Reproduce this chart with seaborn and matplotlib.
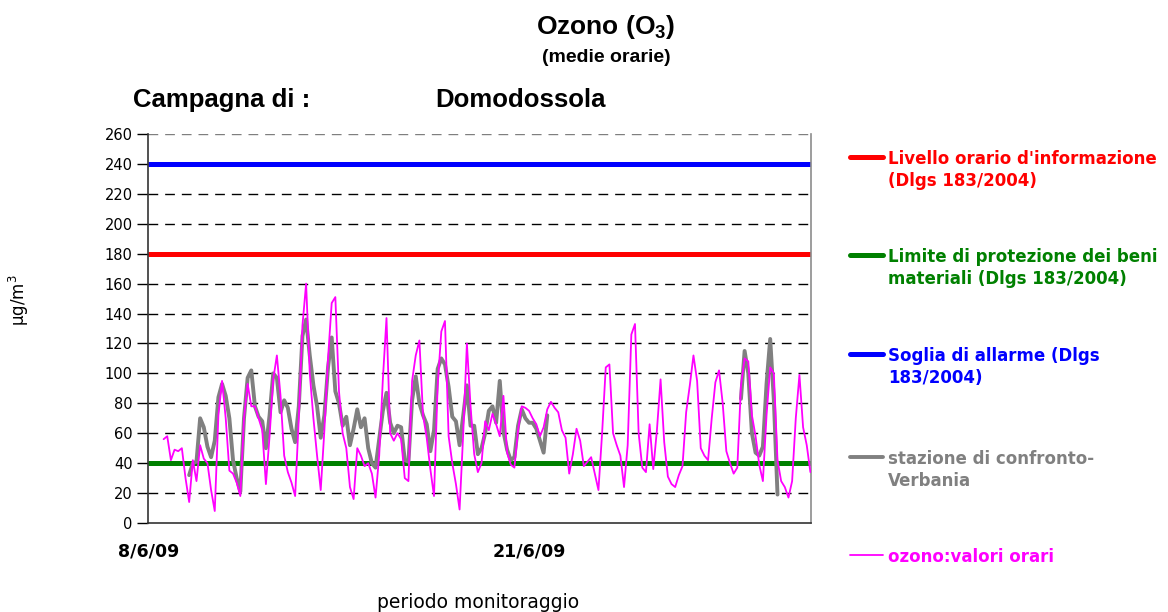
import numpy as np
import pandas as pd
import matplotlib
matplotlib.use("Agg")
import matplotlib.pyplot as plt
from matplotlib.lines import Line2D
import seaborn as sns

nan = np.nan

# ---------------- data ----------------
start_time = "2009-06-08 00:00"
step = "3h"
n_samples = 182

# Domodossola hourly ozone (sampled every 3 h), µg/m3
ozone_domodossola = [nan] * 4 + [
    56, 58, 42, 49, 48, 50, 30, 14, 42, 28,
    52, 43, 40, 22, 8, 72, 95, 70, 35, 33,
    27, 18, 70, 93, 78, 78, 70, 62, 26, 58,
    96, 112, 85, 45, 34, 27, 18, 70, 132, 160,
    100, 70, 45, 22, 62, 110, 147, 151, 88, 60,
    50, 24, 16, 50, 45, 38, 40, 33, 17, 45,
    96, 137, 60, 55, 60, 56, 30, 28, 95, 112,
    122, 72, 57, 36, 18, 92, 128, 135, 58, 40,
    26, 9, 60, 120, 78, 46, 34, 40, 68, 62,
    73, 66, 58, 85, 47, 39, 37, 62, 78, 77,
    75, 70, 66, 58, 64, 76, 81, 77, 74, 62,
    57, 33, 46, 63, 55, 38, 41, 44, 33, 22,
    60, 104, 106, 60, 52, 45, 24, 52, 126, 133,
    60, 37, 34, 66, 36, 62, 96, 54, 31, 26,
    24, 32, 38, 74, 92, 112, 95, 50, 45, 42,
    70, 94, 102, 80, 48, 40, 33, 37, 92, 110,
    108, 72, 58, 39, 28, 72, 104, 100, 42, 28,
    24, 17, 28, 70, 99, 64, 52, 34,
]

# comparison station Verbania
ozone_verbania = [nan] * 11 + [
    32, 40, 41, 70, 64, 51, 44, 55, 84, 93,
    85, 70, 42, 30, 21, 70, 97, 102, 78, 71,
    68, 50, 72, 100, 97, 74, 82, 77, 63, 54,
    78, 125, 136, 112, 92, 78, 57, 72, 104, 124,
    88, 80, 65, 71, 52, 63, 76, 64, 70, 50,
    40, 37, 56, 75, 87, 67, 60, 65, 64, 42,
    41, 82, 98, 80, 72, 66, 48, 62, 103, 110,
    106, 91, 71, 68, 52, 72, 92, 65, 65, 46,
    50, 60, 75, 78, 67, 95, 61, 49, 42, 44,
    65, 76, 70, 67, 67, 63, 55, 47, 72,
] + [nan] * 52 + [
    83, 115, 100, 60, 47, 45, 51, 93, 123, 82, 19,
] + [nan] * 9

threshold_values = [180, 40, 240]
threshold_labels = ["Livello orario d'informazione\n(Dlgs 183/2004)",
                    "Limite di protezione dei beni\nmateriali (Dlgs 183/2004)",
                    "Soglia di allarme (Dlgs\n183/2004)"]
threshold_colors = ["#FF0000", "#008000", "#0000FF"]

series_labels = ["stazione di confronto-\nVerbania", "ozono:valori orari"]
series_colors = ["#808080", "#FF00FF"]

y_ticks = list(range(0, 261, 20))
x_tick_dates = ["2009-06-08", "2009-06-21"]
x_tick_labels = ["8/6/09", "21/6/09"]

# ---------------- frames ----------------
times = pd.date_range(start_time, periods=n_samples, freq=step)
df_o3 = pd.DataFrame({"time": times, "value": ozone_domodossola}).dropna()
df_vb = pd.DataFrame({"time": times, "value": ozone_verbania})
df_vb["segment"] = df_vb["value"].isna().cumsum()
df_vb = df_vb.dropna()

# ---------------- figure ----------------
sns.set_style("white")
plt.rcParams["font.family"] = ["DejaVu Sans"]
plt.rcParams["text.color"] = "black"
plt.rcParams["axes.labelcolor"] = "black"
plt.rcParams["xtick.color"] = "black"
plt.rcParams["ytick.color"] = "black"

W, H = 1168, 612
fig = plt.figure(figsize=(W / 100, H / 100), dpi=100)
ax = fig.add_axes([148 / W, 89 / H, 663 / W, 389 / H])

# gridlines
for v in y_ticks[1:]:
    ax.axhline(v, color="#7f7f7f" if v == 260 else "black", lw=1.0,
               ls=(0, (7, 5)), zorder=1)

# thresholds
for v, c in zip(threshold_values, threshold_colors):
    ax.axhline(v, color=c, lw=3.6, zorder=2, solid_capstyle="butt")

sns.lineplot(data=df_vb, x="time", y="value", units="segment", estimator=None,
             color=series_colors[0], lw=2.8, ax=ax, zorder=3)
sns.lineplot(data=df_o3, x="time", y="value", color=series_colors[1],
             lw=1.3, ax=ax, zorder=4)

t0 = pd.Timestamp(start_time)
ax.set_xlim(t0 - pd.Timedelta(hours=0.8), t0 + pd.Timedelta(hours=543.5))
ax.set_ylim(0, 260)
ax.set_yticks(y_ticks)
ax.set_yticklabels([str(v) for v in y_ticks], fontsize=10.5, color="black")
ax.set_xticks(pd.to_datetime(x_tick_dates))
ax.set_xticklabels(x_tick_labels, fontsize=12.5, fontweight="bold", color="black")
ax.tick_params(axis="x", length=0, pad=14)
ax.tick_params(axis="y", length=8, width=1, color="black", pad=3, left=True)
ax.set_xlabel("")
ax.set_ylabel("")

ax.spines["top"].set_visible(False)
ax.spines["right"].set_color("#8c8c8c")
ax.spines["left"].set_color("#333333")
ax.spines["bottom"].set_color("#333333")
for s in ["left", "bottom", "right"]:
    ax.spines[s].set_linewidth(1.2)


def fx(x):
    return x / W


def fy(y):
    return 1 - y / H


# titles
fig.text(fx(606), fy(27), "Ozono (O$_\\mathregular{3}$)", ha="center", va="center",
         fontsize=19, fontweight="bold", family="Liberation Sans", color="black")
fig.text(fx(606), fy(58), "(medie orarie)", ha="center", va="center",
         fontsize=14, fontweight="bold", family="Liberation Sans", color="black")
fig.text(fx(133), fy(100), "Campagna di :", ha="left", va="center",
         fontsize=18.5, fontweight="bold", family="Liberation Sans", color="black")
fig.text(fx(435), fy(100), "Domodossola", ha="left", va="center",
         fontsize=18.5, fontweight="bold", family="Liberation Sans", color="black")

fig.text(fx(19), fy(300), "µg/m$^\\mathregular{3}$", rotation=90, ha="center",
         va="center", fontsize=12, color="black")
fig.text(fx(478), fy(602), "periodo monitoraggio", ha="center", va="center",
         fontsize=13.5, color="black")

# legend (manual)
legend_rows = [
    (157, threshold_labels[0], threshold_colors[0], 3.6),
    (255, threshold_labels[1], threshold_colors[1], 3.6),
    (354, threshold_labels[2], threshold_colors[2], 3.6),
    (457, series_labels[0], series_colors[0], 2.8),
    (555, series_labels[1], series_colors[1], 1.3),
]
for y, label, color, lw in legend_rows:
    fig.add_artist(Line2D([fx(850), fx(883)], [fy(y), fy(y)], color=color,
                          lw=lw, transform=fig.transFigure))
    fig.text(fx(888), fy(y - 7), label, ha="left", va="top", color=color,
             fontsize=12, fontweight="bold", linespacing=1.3)

fig.savefig("out.png", dpi=100)
